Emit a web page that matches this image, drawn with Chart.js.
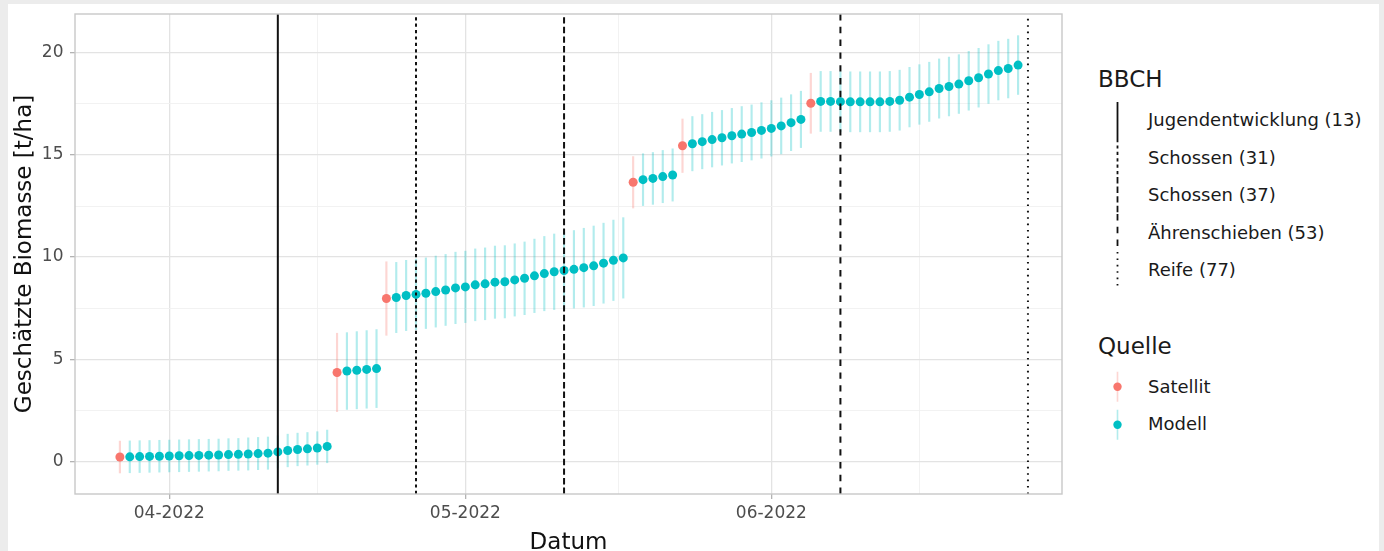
<!DOCTYPE html>
<html lang="de">
<head>
<meta charset="UTF-8">
<title>Geschätzte Biomasse</title>
<script src="https://cdn.jsdelivr.net/npm/chart.js"></script>
<style>
    body { margin: 0; background: #ececec; font-family: "DejaVu Sans", sans-serif; }
    #frame { position: absolute; left: 8px; top: 4px; width: 1371px; height: 547px; background: #fff; }
    #biomasseChart { position: absolute; left: 8px; top: 4px; }
    .lg-title { position: absolute; left: 1098px; font-size: 23px; line-height: 23px; color: #1a1a1a; }
    .lg-row { position: absolute; left: 1100px; height: 37.5px; display: flex; align-items: center;
              font-size: 18px; line-height: 20px; color: #1a1a1a; white-space: nowrap; }
    .lg-row svg { margin-right: 12px; }
</style>
</head>
<body>
<div id="frame"></div>
<canvas id="biomasseChart" width="1070" height="547"></canvas>
<div id="legend"></div>

<script>
    // Tage ab 01.04.2022 (Tag 0 = 01.04.)
    const satDays   = [-5, 17, 22, 47, 52, 65];
    const satValues = [0.21, 4.35, 7.97, 13.66, 15.45, 17.53];
    const satErrors = [0.78, 1.92, 1.80, 1.26, 1.31, 1.47];

    const modelDays = [
        -4, -3, -2, -1, 0, 1, 2, 3, 4, 5, 6, 7, 8, 9, 10, 11, 12, 13, 14, 15, 16,
        18, 19, 20, 21,
        23, 24, 25, 26, 27, 28, 29, 30, 31, 32, 33, 34, 35, 36, 37, 38, 39, 40, 41, 42, 43, 44, 45, 46,
        48, 49, 50, 51,
        53, 54, 55, 56, 57, 58, 59, 60, 61, 62, 63, 64,
        66, 67, 68, 69, 70, 71, 72, 73, 74, 75, 76, 77, 78, 79, 80, 81, 82, 83, 84, 85, 86
    ];
    const modelValues = [
        0.22, 0.23, 0.24, 0.25, 0.26, 0.27, 0.28, 0.29, 0.30, 0.31, 0.33, 0.34, 0.36, 0.38, 0.40, 0.46, 0.53, 0.58, 0.61, 0.65, 0.73,
        4.42, 4.46, 4.50, 4.54,
        8.02, 8.12, 8.17, 8.23, 8.31, 8.39, 8.49, 8.54, 8.64, 8.69, 8.77, 8.79, 8.88, 8.96, 9.08, 9.19, 9.28, 9.34, 9.40, 9.48, 9.57, 9.70, 9.84, 9.96,
        13.79, 13.85, 13.94, 14.02,
        15.55, 15.65, 15.75, 15.84, 15.94, 16.02, 16.10, 16.20, 16.30, 16.42, 16.58, 16.74,
        17.62, 17.62, 17.61, 17.60, 17.60, 17.60, 17.60, 17.62, 17.68, 17.83, 17.96, 18.09, 18.25, 18.35, 18.47, 18.63, 18.78, 18.96, 19.13, 19.23, 19.40
    ];
    const modelErrors = [
        0.78, 0.78, 0.78, 0.78, 0.78, 0.78, 0.78, 0.78, 0.78, 0.78, 0.78, 0.78, 0.79, 0.79, 0.79, 0.79, 0.80, 0.80, 0.80, 0.80, 0.80,
        1.88, 1.89, 1.90, 1.91,
        1.72, 1.72, 1.73, 1.73, 1.74, 1.74, 1.75, 1.75, 1.76, 1.76, 1.77, 1.77, 1.77, 1.78, 1.80, 1.82, 1.85, 1.87, 1.90, 1.93, 1.95, 1.96, 1.97, 1.97,
        1.27, 1.27, 1.28, 1.28,
        1.33, 1.33, 1.34, 1.34, 1.34, 1.35, 1.35, 1.36, 1.36, 1.37, 1.37, 1.38,
        1.47, 1.47, 1.47, 1.47, 1.47, 1.47, 1.47, 1.47, 1.47, 1.46, 1.46, 1.45, 1.45, 1.44, 1.44, 1.44, 1.44, 1.44, 1.44, 1.44, 1.44
    ];

    // BBCH-Stadien
    const bbchDays   = [11, 25, 40, 68, 87];
    const bbchLabels = ['Jugendentwicklung (13)', 'Schossen (31)', 'Schossen (37)', 'Ährenschieben (53)', 'Reife (77)'];
    const bbchDashes = [[], [3.2, 3.2], [6.4, 3.2], [6.4, 6.4], [1.6, 4.8]];

    const xTickDays   = [0, 30, 61];
    const xTickLabels = ['04-2022', '05-2022', '06-2022'];
    const xMinorDays  = [15, 45.5, 76];
    const yMajorTicks = [0, 5, 10, 15, 20];
    const yMinorTicks = [2.5, 7.5, 12.5, 17.5];

    const X_MIN = -9.55, X_MAX = 90.45, Y_MIN = -1.6, Y_MAX = 21.9;

    const RED = '#F8766D', TEAL = '#00BFC4';
    const RED_BAR = 'rgba(248,118,109,0.3)', TEAL_BAR = 'rgba(0,191,196,0.3)';

    function errorBars(days, values, errors) {
        return days.map((d, i) => ({ x: d, y: [values[i] - errors[i], values[i] + errors[i]] }));
    }
    function points(days, values) {
        return days.map((d, i) => ({ x: d, y: values[i] }));
    }

    const datasets = [];
    bbchDays.forEach((d, i) => {
        datasets.push({
            type: 'line', label: bbchLabels[i],
            data: [{ x: d, y: Y_MIN }, { x: d, y: Y_MAX }],
            borderColor: '#111', borderWidth: 2, borderDash: bbchDashes[i], borderCapStyle: 'butt',
            pointRadius: 0, order: 0
        });
    });
    datasets.push({
        type: 'scatter', label: 'Satellit', data: points(satDays, satValues),
        backgroundColor: RED, pointRadius: 4.5, pointBorderWidth: 0, order: 1
    });
    datasets.push({
        type: 'scatter', label: 'Modell', data: points(modelDays, modelValues),
        backgroundColor: TEAL, pointRadius: 4.5, pointBorderWidth: 0, order: 1
    });
    datasets.push({
        type: 'bar', label: 'Satellit Fehler', data: errorBars(satDays, satValues, satErrors),
        backgroundColor: RED_BAR, barThickness: 1.5, grouped: false, order: 2
    });
    datasets.push({
        type: 'bar', label: 'Modell Fehler', data: errorBars(modelDays, modelValues, modelErrors),
        backgroundColor: TEAL_BAR, barThickness: 1.5, grouped: false, order: 2
    });

    const panelBorder = {
        id: 'panelBorder',
        afterDatasetsDraw(chart) {
            const a = chart.chartArea, ctx = chart.ctx;
            ctx.save();
            ctx.strokeStyle = '#c8c8c8';
            ctx.lineWidth = 1.4;
            ctx.strokeRect(a.left, a.top, a.right - a.left, a.bottom - a.top);
            ctx.restore();
        }
    };

    function noPad(s) {
        s.paddingTop = 0; s.paddingBottom = 0; s.paddingLeft = 0; s.paddingRight = 0;
    }

    const tickFont = { family: 'DejaVu Sans', size: 17 };
    const titleFont = { family: 'DejaVu Sans', size: 23, lineHeight: 0.8 };

    new Chart(document.getElementById('biomasseChart'), {
        type: 'scatter',
        data: { datasets: datasets },
        options: {
            responsive: false,
            animation: false,
            devicePixelRatio: 1,
            events: [],
            layout: { padding: { top: 10, right: 16, left: 0, bottom: 0 } },
            plugins: { legend: { display: false }, tooltip: { enabled: false } },
            scales: {
                x: {
                    type: 'linear', min: X_MIN, max: X_MAX, offset: false,
                    afterBuildTicks: s => {
                        s.ticks = xTickDays.concat(xMinorDays).sort((a, b) => a - b).map(v => ({ value: v }));
                    },
                    afterFit: s => { s.height = 57; noPad(s); },
                    ticks: {
                        autoSkip: false, maxRotation: 0, padding: 4, color: '#4d4d4d', font: tickFont,
                        callback: v => { const i = xTickDays.indexOf(v); return i >= 0 ? xTickLabels[i] : ''; }
                    },
                    grid: {
                        offset: false, tickLength: 5,
                        color: c => xTickDays.includes(c.tick.value) ? '#e3e3e3' : '#f1f1f1',
                        lineWidth: c => xTickDays.includes(c.tick.value) ? 1.3 : 0.9,
                        tickColor: c => xTickDays.includes(c.tick.value) ? '#b3b3b3' : 'rgba(0,0,0,0)'
                    },
                    border: { display: false },
                    title: { display: true, text: 'Datum', color: '#111', font: titleFont, padding: { bottom: -1 } }
                },
                y: {
                    type: 'linear', min: Y_MIN, max: Y_MAX,
                    afterBuildTicks: s => {
                        s.ticks = yMajorTicks.concat(yMinorTicks).sort((a, b) => a - b).map(v => ({ value: v }));
                    },
                    afterFit: s => { s.width = 67; noPad(s); },
                    ticks: {
                        autoSkip: false, padding: 6.5, color: '#4d4d4d', font: tickFont,
                        callback: v => yMajorTicks.includes(v) ? String(v) : ''
                    },
                    grid: {
                        tickLength: 5,
                        color: c => yMajorTicks.includes(c.tick.value) ? '#e3e3e3' : '#f1f1f1',
                        lineWidth: c => yMajorTicks.includes(c.tick.value) ? 1.3 : 0.9,
                        tickColor: c => yMajorTicks.includes(c.tick.value) ? '#b3b3b3' : 'rgba(0,0,0,0)'
                    },
                    border: { display: false },
                    title: { display: true, text: 'Geschätzte Biomasse [t/ha]', color: '#111', font: titleFont, padding: { top: 8 } }
                }
            }
        },
        plugins: [panelBorder]
    });

    // Legende (rechts)
    const legend = document.getElementById('legend');
    function addTitle(text, top) {
        const el = document.createElement('div');
        el.className = 'lg-title';
        el.style.top = top + 'px';
        el.textContent = text;
        legend.appendChild(el);
    }
    function addRow(top, glyph, text) {
        const row = document.createElement('div');
        row.className = 'lg-row';
        row.style.top = top + 'px';
        row.innerHTML = '<svg width="36" height="37.5">' + glyph + '</svg>';
        const span = document.createElement('span');
        span.textContent = text;
        row.appendChild(span);
        legend.appendChild(row);
    }
    addTitle('BBCH', 68);
    bbchLabels.forEach((lab, i) => {
        const dash = bbchDashes[i].length ? ' stroke-dasharray="' + bbchDashes[i].join(' ') + '"' : '';
        addRow(101.5 + i * 37.5,
            '<line x1="17.5" y1="0" x2="17.5" y2="37.5" stroke="#111" stroke-width="1.8"' + dash + '/>', lab);
    });
    addTitle('Quelle', 334.5);
    [['Satellit', RED, RED_BAR], ['Modell', TEAL, TEAL_BAR]].forEach((s, i) => {
        addRow(368 + i * 37.5,
            '<line x1="17.5" y1="3.75" x2="17.5" y2="33.75" stroke="' + s[2] + '" stroke-width="1.6"/>' +
            '<circle cx="17.5" cy="18.75" r="4.2" fill="' + s[1] + '"/>', s[0]);
    });
</script>
</body>
</html>
